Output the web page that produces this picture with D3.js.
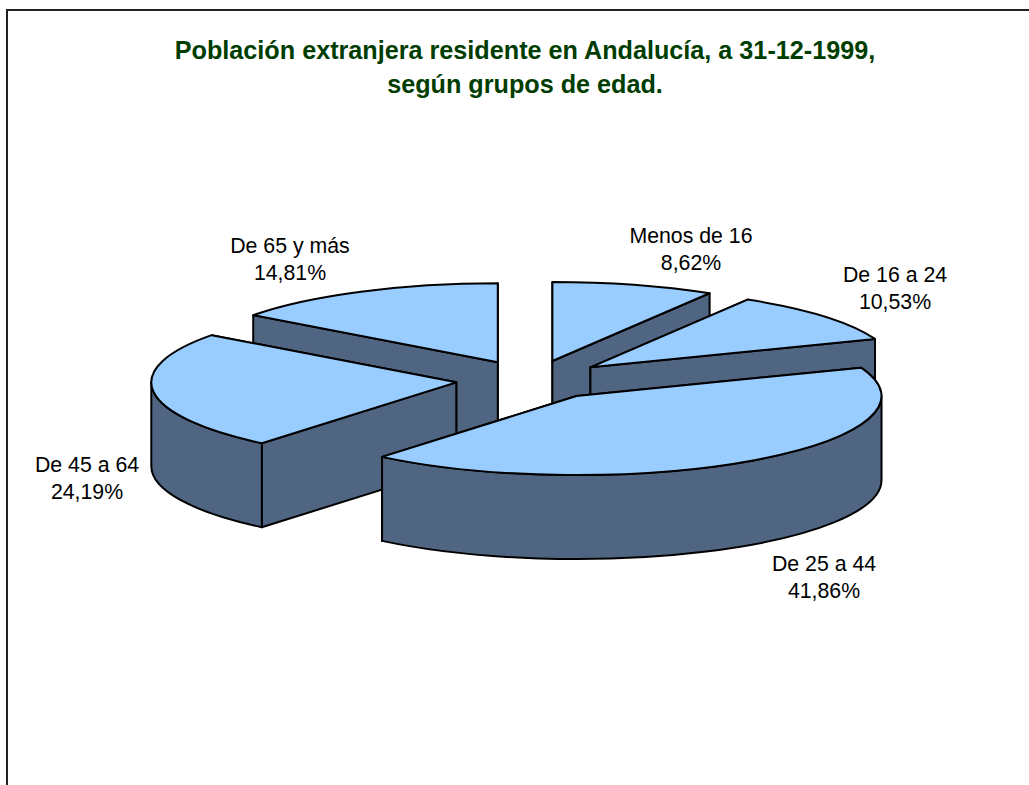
<!DOCTYPE html>
<html>
<head>
<meta charset="utf-8">
<script src="https://cdn.jsdelivr.net/npm/d3@7"></script>
<style>
  body { margin: 0; background: #fff; }
  svg { display: block; }
  text { font-family: "Liberation Sans", Arial, sans-serif; }
</style>
</head>
<body>
<script>
/* data */

var categories = ['Menos de 16', 'De 16 a 24', 'De 25 a 44', 'De 45 a 64', 'De 65 y más'];
var values = [8.62, 10.53, 41.86, 24.19, 14.81];
var valueLabels = ['8,62%', '10,53%', '41,86%', '24,19%', '14,81%'];
var titleLines = ['Población extranjera residente en Andalucía, a 31-12-1999,', 'según grupos de edad.'];

// where each label sits, in px
var labelX = [691, 895, 824, 87, 290];
var labelY = [243, 282, 571, 472, 253];

// painter's order, back slices first
var drawOrder = [4, 0, 1, 3, 2];


/* declare variables */

var width = 1029;
var height = 785;
var cx = 532;
var cy = 380;
var rx = 305;
var ry = 79;
var depth = 84;
var explode = 0.25;
var topColour = '#99ccff';
var sideColour = '#4f6582';

// unit circle to screen, tilted pie
var xScale = d3.scaleLinear().domain([-1, 1]).range([cx - rx, cx + rx]);
var yScale = d3.scaleLinear().domain([-1, 1]).range([cy - ry, cy + ry]);


/* draw canvas */

var svg = d3.select('body').
append('svg').
attr('width', width).
attr('height', height);

// frame runs off the right and bottom of the picture
svg.append('rect').
attr('x', 7).
attr('y', 10).
attr('width', width + 20).
attr('height', height + 20).
attr('fill', 'white').
attr('stroke', '#222').
attr('stroke-width', 2);


/* title */

svg.selectAll('.title').
data(titleLines).
enter().
append('text').
attr('class', 'title').
attr('x', 525).
attr('y', function (d, i) {return 59 + i * 34;}).
attr('text-anchor', 'middle').
attr('font-size', 25.2).
attr('font-weight', 'bold').
attr('fill', '#003d00').
text(function (d) {return d;});


/* slices */

var pie = d3.pie().sort(null);
var arcs = pie(values);

function ptX(a, mid) {
      return xScale(Math.sin(a) + explode * Math.sin(mid)) ;
}
function ptY(a, mid, drop) {
      return yScale(-Math.cos(a) - explode * Math.cos(mid)) + (drop || 0);
}

// arc along the ellipse from a0 to a1, clockwise unless reverse is set
function ellipseTo(a0, a1, mid, drop, reverse) {
      var large = Math.abs(a1 - a0) > Math.PI ? 1 : 0;
      return 'A' + rx + ',' + ry + ' 0 ' + large + ' ' + (reverse ? 0 : 1) + ' ' +
      ptX(a1, mid) + ',' + ptY(a1, mid, drop);
}

function wallPath(a, mid) {
      var ax = xScale(explode * Math.sin(mid));
      var ay = yScale(-explode * Math.cos(mid));
      return 'M' + ax + ',' + ay +
      'L' + ptX(a, mid) + ',' + ptY(a, mid) +
      'L' + ptX(a, mid) + ',' + ptY(a, mid, depth) +
      'L' + ax + ',' + (ay + depth) + 'Z';
}

function rimPath(a0, a1, mid) {
      return 'M' + ptX(a0, mid) + ',' + ptY(a0, mid) +
      ellipseTo(a0, a1, mid, 0) +
      'L' + ptX(a1, mid) + ',' + ptY(a1, mid, depth) +
      ellipseTo(a1, a0, mid, depth, true) + 'Z';
}

function topPath(d, mid) {
      return 'M' + xScale(explode * Math.sin(mid)) + ',' + yScale(-explode * Math.cos(mid)) +
      'L' + ptX(d.startAngle, mid) + ',' + ptY(d.startAngle, mid) +
      ellipseTo(d.startAngle, d.endAngle, mid, 0) + 'Z';
}

var slices = svg.selectAll('.slice').
data(drawOrder.map(function (i) {return arcs[i];})).
enter().
append('g').
attr('class', 'slice').
attr('stroke', 'black').
attr('stroke-width', 2).
attr('stroke-linejoin', 'round');

slices.each(function (d) {
      var g = d3.select(this);
      var mid = (d.startAngle + d.endAngle) / 2;

      // walls, the one further back goes first
      [d.startAngle, d.endAngle].sort(function (a, b) {return Math.cos(b) - Math.cos(a);}).
      forEach(function (a) {
            g.append('path').attr('d', wallPath(a, mid)).attr('fill', sideColour);
      });

      // outer rim, only the part that faces the viewer
      var a0 = Math.max(d.startAngle, Math.PI / 2);
      var a1 = Math.min(d.endAngle, Math.PI * 1.5);
      if (a1 > a0) {
            g.append('path').attr('d', rimPath(a0, a1, mid)).attr('fill', sideColour);
      }

      g.append('path').attr('d', topPath(d, mid)).attr('fill', topColour);
});


/* labels */

var labels = svg.selectAll('.label').
data(categories).
enter().
append('text').
attr('class', 'label').
attr('text-anchor', 'middle').
attr('font-size', 21.3).
attr('fill', 'black');

labels.append('tspan').
attr('x', function (d, i) {return labelX[i];}).
attr('y', function (d, i) {return labelY[i];}).
text(function (d) {return d;});

labels.append('tspan').
attr('x', function (d, i) {return labelX[i];}).
attr('y', function (d, i) {return labelY[i] + 27;}).
text(function (d, i) {return valueLabels[i];});
</script>
</body>
</html>
